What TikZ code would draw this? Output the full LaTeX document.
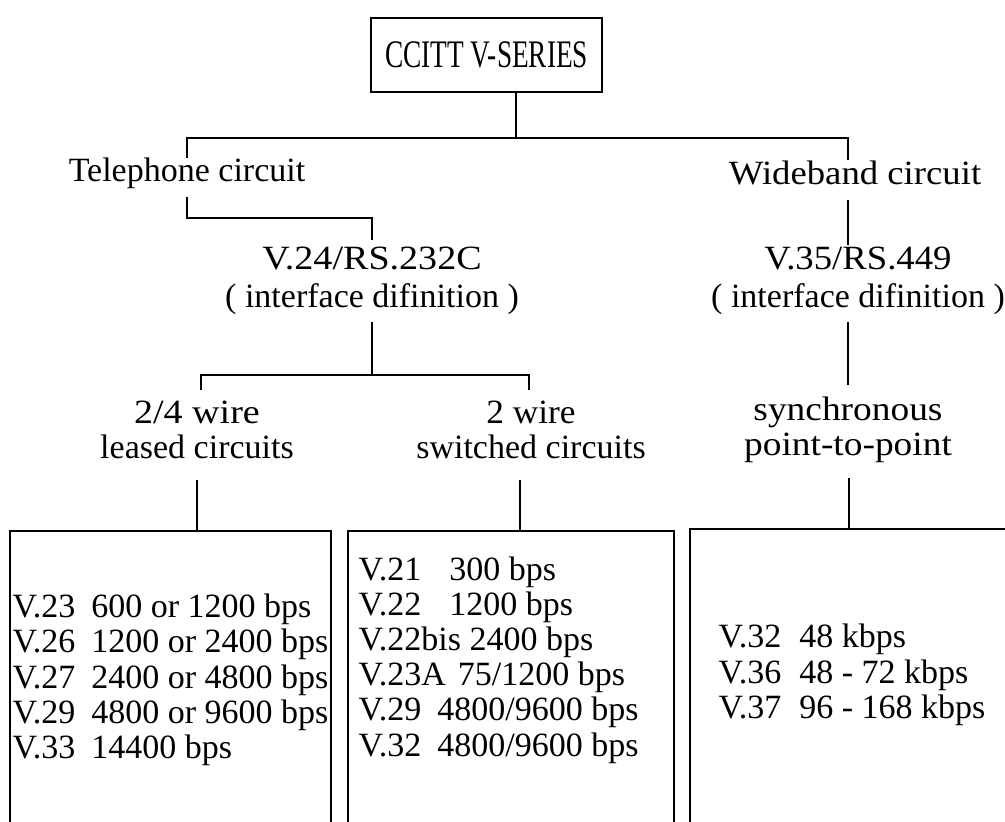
\documentclass[tikz,border=0pt]{standalone}
\usepackage{fontspec}
\usepackage{graphicx}
\setmainfont{Liberation Serif}
\newcommand{\wx}[2]{\scalebox{#1}[1]{#2}}
\begin{document}
\begin{tikzpicture}[x=1pt,y=-1pt,line width=1.4pt,
  lbl/.style={inner sep=0pt,align=center,font=\fontsize{34}{35}\selectfont},
  lblb/.style={inner sep=0pt,align=center,font=\fontsize{34}{38}\selectfont},
  lst/.style={inner sep=0pt,align=left,anchor=west,font=\fontsize{34}{35.2}\selectfont},
  frame/.style={line width=1.4pt}]
\useasboundingbox (0,0) rectangle (1005,822);
% top box
\node[draw,minimum width=231pt,minimum height=74pt,inner sep=0pt,font=\fontsize{39}{39}\selectfont] (cc) at (486.5,55) {\wx{0.7}{CCITT V-SERIES}};
% level 1 labels
\node[lbl] (tel) at (187,173) {Telephone circuit};
\node[lbl] (wide) at (855,173) {\wx{1.08}{Wideband circuit}};
\coordinate (j0) at (516,138);
\coordinate (jl) at (187,138);
\coordinate (jr) at (848,138);
\coordinate (tlu) at (187,158);
\coordinate (tru) at (848,160);
\draw (cc.south -| j0) -- (j0);
\draw (tlu) -- (jl) -- (jr) -- (tru);
% interface definitions
\node[lblb] (v24) at (372,281) {\wx{1.12}{V.24/RS.232C}\\( interface difinition )};
\node[lblb] (v35) at (858,281) {\wx{1.08}{V.35/RS.449}\\( interface difinition )};
\coordinate (b1) at (187,197);
\coordinate (b2) at (187,218);
\coordinate (b3) at (372,218);
\coordinate (b4) at (372,240);
\draw (b1) -- (b2) -- (b3) -- (b4);
\coordinate (w1) at (848,200);
\coordinate (w2) at (848,245);
\draw (w1) -- (w2);
% level 3 labels
\node[lbl] (leased) at (197,430) {\wx{1.12}{2/4 wire}\\leased circuits};
\node[lbl] (switched) at (531,430) {\wx{1.04}{2 wire}\\switched circuits};
\node[lbl] (sync) at (848,430) {\wx{1.1}{synchronous}\\\wx{1.1}{point-to-point}};
\coordinate (s1) at (372,322);
\coordinate (s2) at (372,375);
\coordinate (sl) at (201,375);
\coordinate (sr) at (529,375);
\coordinate (sld) at (201,390);
\coordinate (srd) at (529,390);
\draw (s1) -- (s2);
\draw (sld) -- (sl) -- (sr) -- (srd);
\coordinate (y1) at (848,322);
\coordinate (y2) at (848,385);
\draw (y1) -- (y2);
% boxes
\coordinate (k1) at (197,480);
\coordinate (k1b) at (197,531);
\coordinate (k2) at (520,480);
\coordinate (k2b) at (520,531);
\coordinate (k3) at (849,478);
\coordinate (k3b) at (849,529);
\draw (k1) -- (k1b);
\draw (k2) -- (k2b);
\draw (k3) -- (k3b);
\draw[frame] (10,830) -- (10,531) -- (331,531) -- (331,830);
\draw[frame] (348,830) -- (348,531) -- (674,531) -- (674,830);
\draw[frame] (690,830) -- (690,529) -- (1015,529);
\node[lst] (list1) at (12,680) {V.23\hspace{16pt}600 or 1200 bps\\V.26\hspace{16pt}1200 or 2400 bps\\V.27\hspace{16pt}2400 or 4800 bps\\V.29\hspace{16pt}4800 or 9600 bps\\V.33\hspace{16pt}14400 bps};
\node[lst] (list2) at (358,660) {V.21\hspace{28pt}300 bps\\V.22\hspace{28pt}1200 bps\\V.22bis 2400 bps\\V.23A\hspace{12pt}75/1200 bps\\V.29\hspace{16pt}4800/9600 bps\\V.32\hspace{16pt}4800/9600 bps};
\node[lst] (list3) at (718,675) {V.32\hspace{18pt}48 kbps\\V.36\hspace{18pt}48 - 72 kbps\\V.37\hspace{18pt}96 - 168 kbps};
\end{tikzpicture}
\end{document}
